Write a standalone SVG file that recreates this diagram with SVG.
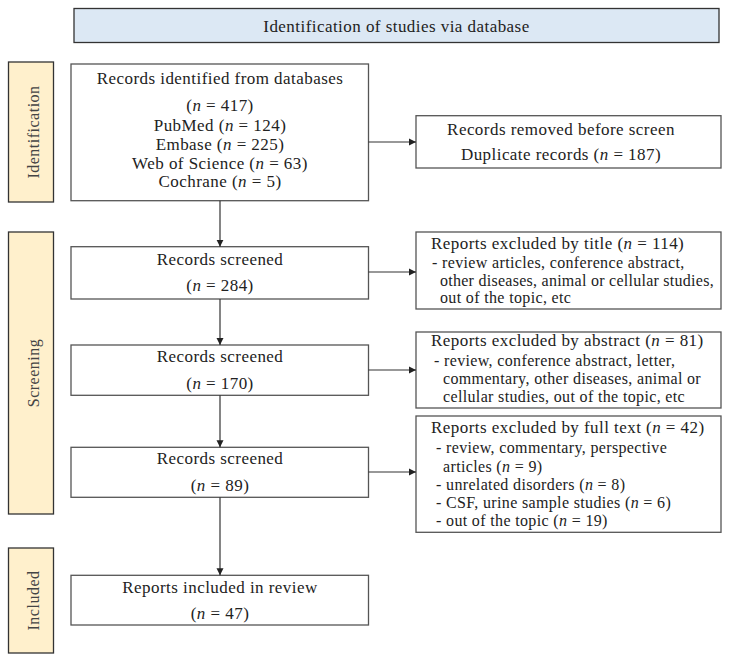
<svg xmlns="http://www.w3.org/2000/svg" width="729" height="659" viewBox="0 0 729 659">
<style>
text{font-family:"Liberation Serif","Times New Roman",serif;font-size:17px;fill:#222;letter-spacing:0.45px}
.c{text-anchor:middle}
.li{font-size:16px;letter-spacing:0.35px}
.box{fill:#fff;stroke:#555;stroke-width:1.3}
.side{fill:#FFF0CC;stroke:#333;stroke-width:1.3}
.lab{fill:#444;font-size:16px;letter-spacing:0.5px}
.ban{fill:#DCE8F4;stroke:#333;stroke-width:1.3}
.ln{stroke:#333;stroke-width:1.2;fill:none;marker-end:url(#ah)}
.it{font-style:italic}
</style>
<defs>
<marker id="ah" markerWidth="8" markerHeight="8" refX="7" refY="4" orient="auto" markerUnits="userSpaceOnUse">
<path d="M0,0.5 L7,4 L0,7.5 Z" fill="#222"/>
</marker>
</defs>
<rect width="729" height="659" fill="#fff"/>
<g id="banner">
<rect class="ban" x="74" y="8.5" width="645" height="34"/>
<text class="c" x="396.5" y="31.5">Identification of studies via database</text>
</g>
<g id="label-identification">
<rect class="side" x="8.5" y="62" width="45" height="140"/>
<text class="c lab" transform="translate(38.5 132) rotate(-90)">Identification</text>
</g>
<g id="label-screening">
<rect class="side" x="8.5" y="232" width="45" height="282"/>
<text class="c lab" transform="translate(38.5 373) rotate(-90)">Screening</text>
</g>
<g id="label-included">
<rect class="side" x="8.5" y="548" width="45" height="105"/>
<text class="c lab" transform="translate(38.5 600.5) rotate(-90)">Included</text>
</g>
<g id="records-identified">
<rect class="box" x="71" y="64" width="297.5" height="136.7"/>
<text class="c" x="220" y="84">Records identified from databases</text>
<text class="c" x="220" y="111">(<tspan class="it">n</tspan> = 417)</text>
<text class="c" x="220" y="131">PubMed (<tspan class="it">n</tspan> = 124)</text>
<text class="c" x="220" y="150">Embase (<tspan class="it">n</tspan> = 225)</text>
<text class="c" x="220" y="168.5">Web of Science (<tspan class="it">n</tspan> = 63)</text>
<text class="c" x="220" y="187">Cochrane (<tspan class="it">n</tspan> = 5)</text>
</g>
<g id="records-removed">
<rect class="box" x="416" y="115.7" width="305" height="52.3"/>
<text class="c" x="561" y="135">Records removed before screen</text>
<text class="c" x="561" y="160">Duplicate records (<tspan class="it">n</tspan> = 187)</text>
</g>
<g id="screened-284">
<rect class="box" x="71" y="246.7" width="297.5" height="52.3"/>
<text class="c" x="220" y="265">Records screened</text>
<text class="c" x="220" y="291">(<tspan class="it">n</tspan> = 284)</text>
</g>
<g id="excluded-title">
<rect class="box" x="416" y="232" width="305" height="77"/>
<text x="431" y="249">Reports excluded by title (<tspan class="it">n</tspan> = 114)</text>
<text class="li" x="432" y="268">- review articles, conference abstract,</text>
<text class="li" x="440" y="286" textLength="274" lengthAdjust="spacing">other diseases, animal or cellular studies,</text>
<text class="li" x="440" y="303">out of the topic, etc</text>
</g>
<g id="screened-170">
<rect class="box" x="71" y="345" width="297.5" height="50.3"/>
<text class="c" x="220" y="362">Records screened</text>
<text class="c" x="220" y="389">(<tspan class="it">n</tspan> = 170)</text>
</g>
<g id="excluded-abstract">
<rect class="box" x="416" y="332" width="305" height="76"/>
<text x="431" y="346">Reports excluded by abstract (<tspan class="it">n</tspan> = 81)</text>
<text class="li" x="434" y="366">- review, conference abstract, letter,</text>
<text class="li" x="443" y="384">commentary, other diseases, animal or</text>
<text class="li" x="443" y="402">cellular studies, out of the topic, etc</text>
</g>
<g id="screened-89">
<rect class="box" x="71" y="447.3" width="297.5" height="50"/>
<text class="c" x="220" y="464">Records screened</text>
<text class="c" x="220" y="491">(<tspan class="it">n</tspan> = 89)</text>
</g>
<g id="excluded-fulltext">
<rect class="box" x="416" y="416" width="305" height="116.3"/>
<text x="431" y="433">Reports excluded by full text (<tspan class="it">n</tspan> = 42)</text>
<text class="li" x="436" y="453">- review, commentary, perspective</text>
<text class="li" x="443" y="472">articles (<tspan class="it">n</tspan> = 9)</text>
<text class="li" x="436" y="490">- unrelated disorders (<tspan class="it">n</tspan> = 8)</text>
<text class="li" x="436" y="508">- CSF, urine sample studies (<tspan class="it">n</tspan> = 6)</text>
<text class="li" x="436" y="526">- out of the topic (<tspan class="it">n</tspan> = 19)</text>
</g>
<g id="included-review">
<rect class="box" x="71" y="575.3" width="297.5" height="49.7"/>
<text class="c" x="220" y="593">Reports included in review</text>
<text class="c" x="220" y="619">(<tspan class="it">n</tspan> = 47)</text>
</g>
<g id="connectors">
<line class="ln" x1="220" y1="200.7" x2="220" y2="246.7"/>
<line class="ln" x1="220" y1="299" x2="220" y2="345"/>
<line class="ln" x1="220" y1="395.3" x2="220" y2="447.3"/>
<line class="ln" x1="220" y1="497.3" x2="220" y2="575.3"/>
<line class="ln" x1="368.5" y1="142" x2="416" y2="142"/>
<line class="ln" x1="368.5" y1="272" x2="416" y2="272"/>
<line class="ln" x1="368.5" y1="370" x2="416" y2="370"/>
<line class="ln" x1="368.5" y1="472" x2="416" y2="472"/>
</g>
</svg>
